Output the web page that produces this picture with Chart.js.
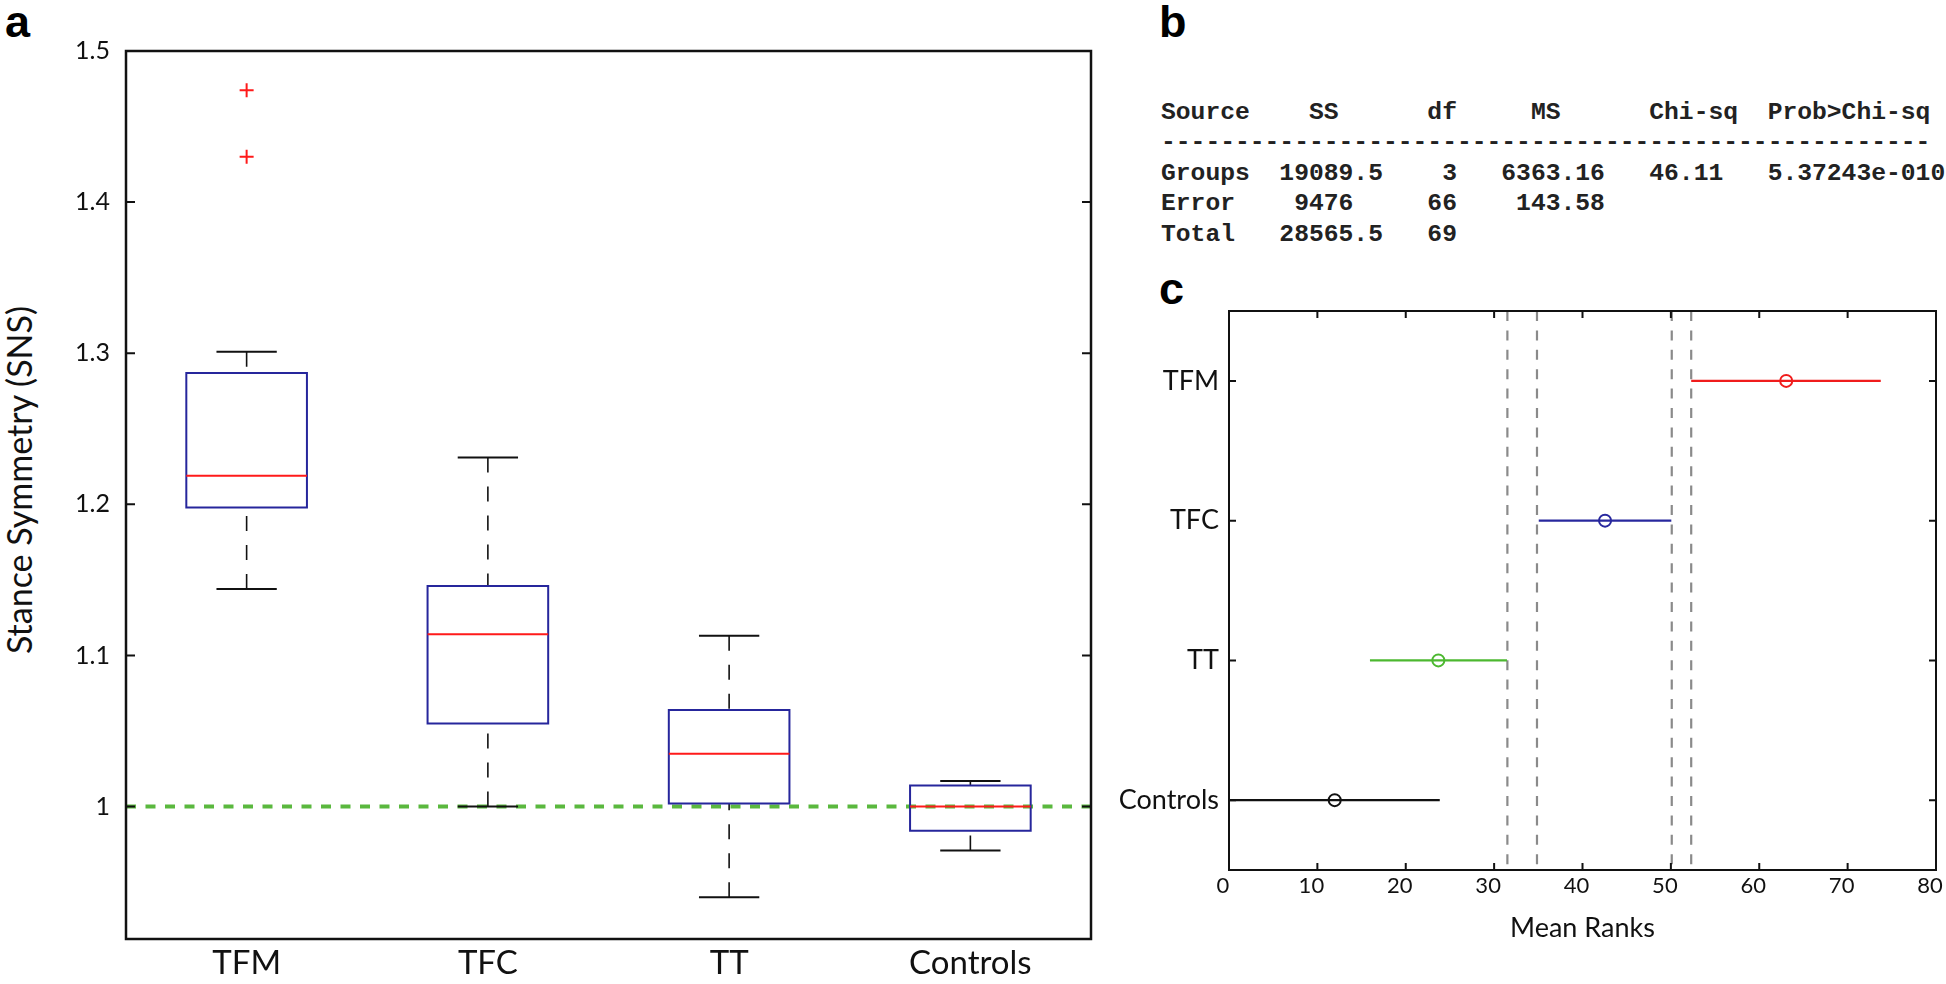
<!DOCTYPE html>
<html>
<head>
<meta charset="utf-8">
<script src="https://cdn.jsdelivr.net/npm/chart.js@4.4.1/dist/chart.umd.min.js"></script>
<style>
  html, body { margin: 0; padding: 0; background: #fff; }
  body { width: 1946px; height: 984px; position: relative; overflow: hidden; }
  canvas { position: absolute; }
  #chartA { left: 0; top: 0; }
  #chartC { left: 1100px; top: 260px; }
  .tag { position: absolute; font: bold 45px 'Liberation Sans', Arial, sans-serif; line-height: 1; color: #000; }
  #ylab { position: absolute; width: 400px; left: -181.5px; top: 463px; font: 34px Lato, sans-serif;
          line-height: 34px; text-align: center; color: #111; transform: rotate(-90deg); }
  #anova { position: absolute; left: 1161px; top: 96.5px; margin: 0; color: #222;
           font: bold 24.67px 'Liberation Mono', 'Courier New', monospace; line-height: 30.5px; }
</style>
</head>
<body>
<div class="tag" style="left:5px;top:-1px">a</div>
<div class="tag" style="left:1159px;top:-1px">b</div>
<div class="tag" style="left:1159px;top:266px">c</div>
<div id="ylab">Stance Symmetry (SNS)</div>
<pre id="anova"></pre>
<canvas id="chartA" width="1100" height="984"></canvas>
<canvas id="chartC" width="846" height="724"></canvas>
<script>
// groups shared by both plots
const groups = ['TFM', 'TFC', 'TT', 'Controls'];

// a: box plot of stance symmetry
const whiskerHigh = [1.301, 1.231, 1.113, 1.017];
const q3 = [1.287, 1.146, 1.064, 1.014];
const medians = [1.219, 1.114, 1.035, 1.000];
const q1 = [1.198, 1.055, 1.002, 0.984];
const whiskerLow = [1.144, 1.000, 0.940, 0.971];
const outliers = [[1.474, 1.430], [], [], []];
const refLevel = 1;
const yTicksA = [1, 1.1, 1.2, 1.3, 1.4, 1.5];

// b: Kruskal-Wallis table
const tableHead = ['Source', 'SS', 'df', 'MS', 'Chi-sq', 'Prob>Chi-sq'];
const tableRows = [
  ['Groups', '19089.5', '3', '6363.16', '46.11', '5.37243e-010'],
  ['Error', '9476', '66', '143.58'],
  ['Total', '28565.5', '69']
];

// c: multiple comparison of mean ranks
const rankMeans = [63.05, 42.55, 23.69, 11.96];
const rankLow = [52.3, 35.05, 15.95, 0.1];
const rankHigh = [73.75, 50.05, 31.45, 23.85];
const cutLines = [31.5, 34.85, 50.1, 52.3];
const xTicksC = [0, 10, 20, 30, 40, 50, 60, 70, 80];

// table text, columns as in the matlab output
const headCols = [0, 10, 18, 25, 33, 41];
const rowCols = [[0, 8, 19, 23, 33, 41], [0, 9, 18, 24], [0, 8, 18]];
function placeRow(cells, cols) {
  let s = '';
  cells.forEach((c, i) => { s = s.padEnd(cols[i]) + c; });
  return s;
}
document.getElementById('anova').textContent = [
  placeRow(tableHead, headCols),
  '-'.repeat(52),
  ...tableRows.map((r, i) => placeRow(r, rowCols[i]))
].join('\n');

Chart.defaults.font.family = 'Lato';
Chart.defaults.color = '#111';

// matlab style frame with inward ticks
const frameTicks = {
  id: 'frameTicks',
  afterDatasetsDraw(chart, args, opts) {
    const { ctx, chartArea: a, scales: { x, y } } = chart;
    ctx.save();
    ctx.strokeStyle = '#111';
    ctx.lineWidth = opts.tickWidth;
    ctx.beginPath();
    (opts.yTicks || []).forEach(v => {
      const py = y.getPixelForValue(v);
      ctx.moveTo(a.left, py); ctx.lineTo(a.left + opts.tickLen, py);
      ctx.moveTo(a.right, py); ctx.lineTo(a.right - opts.tickLen, py);
    });
    (opts.xTicks || []).forEach(v => {
      const px = x.getPixelForValue(v);
      ctx.moveTo(px, a.top); ctx.lineTo(px, a.top + opts.tickLen);
      ctx.moveTo(px, a.bottom); ctx.lineTo(px, a.bottom - opts.tickLen);
    });
    ctx.stroke();
    ctx.lineWidth = opts.frameWidth;
    ctx.strokeRect(a.left, a.top, a.right - a.left, a.bottom - a.top);
    ctx.restore();
  }
};

// box plot pieces, one line dataset each, segments split by null
const half = 0.25, capHalf = 0.125;
const boxPts = [], medPts = [], whiskPts = [], capPts = [], outPts = [];
groups.forEach((g, k) => {
  const i = k + 1;
  boxPts.push({x: i - half, y: q1[k]}, {x: i + half, y: q1[k]}, {x: i + half, y: q3[k]},
              {x: i - half, y: q3[k]}, {x: i - half, y: q1[k]}, {x: i, y: null});
  medPts.push({x: i - half, y: medians[k]}, {x: i + half, y: medians[k]}, {x: i, y: null});
  whiskPts.push({x: i, y: whiskerHigh[k]}, {x: i, y: q3[k]}, {x: i, y: null},
                {x: i, y: whiskerLow[k]}, {x: i, y: q1[k]}, {x: i, y: null});
  capPts.push({x: i - capHalf, y: whiskerHigh[k]}, {x: i + capHalf, y: whiskerHigh[k]}, {x: i, y: null},
              {x: i - capHalf, y: whiskerLow[k]}, {x: i + capHalf, y: whiskerLow[k]}, {x: i, y: null});
  outliers[k].forEach(v => outPts.push({x: i, y: v}));
});

new Chart(document.getElementById('chartA'), {
  type: 'line',
  data: {
    datasets: [
      { data: medPts, borderColor: '#ff1a1a', borderWidth: 2, order: 1 },
      { data: boxPts, borderColor: '#26269c', borderWidth: 2, borderCapStyle: 'square', borderJoinStyle: 'miter', order: 1 },
      { data: capPts, borderColor: '#111', borderWidth: 2, order: 1 },
      { data: whiskPts, borderColor: '#111', borderWidth: 1.6, borderDash: [15, 14], order: 1 },
      { data: outPts, showLine: false, pointStyle: 'cross', pointRadius: 7, pointBorderWidth: 2,
        pointBorderColor: '#ff1a1a', order: 1 },
      { data: [{x: 0.5, y: refLevel}, {x: 4.5, y: refLevel}], borderColor: '#5ab83e', borderWidth: 4,
        borderDash: [10, 9.5], order: 2 }
    ]
  },
  options: {
    responsive: false,
    animation: false,
    layout: { padding: { left: 0, top: 51, right: 9, bottom: 0 } },
    elements: { point: { radius: 0 }, line: { tension: 0 } },
    plugins: {
      legend: { display: false },
      tooltip: { enabled: false },
      frameTicks: { yTicks: yTicksA, tickLen: 9, tickWidth: 2, frameWidth: 2.5 }
    },
    scales: {
      x: {
        type: 'linear', min: 0.5, max: 4.5,
        grid: { display: false, drawTicks: false }, border: { display: false },
        afterBuildTicks: s => { s.ticks = groups.map((g, k) => ({ value: k + 1 })); },
        afterFit: s => { s.height = 45; s.paddingLeft = 0; s.paddingRight = 0; },
        ticks: { callback: v => groups[v - 1], font: { size: 33 }, padding: 5, maxRotation: 0, autoSkip: false }
      },
      y: {
        type: 'linear', min: 0.9124, max: 1.5,
        grid: { display: false, drawTicks: false }, border: { display: false },
        afterBuildTicks: s => { s.ticks = yTicksA.map(v => ({ value: v })); },
        afterFit: s => { s.width = 126; },
        ticks: { callback: v => String(Math.round(v * 10) / 10), font: { size: 25 }, padding: 16 }
      }
    }
  },
  plugins: [frameTicks]
});

const rankColors = ['#f01c1c', '#28289e', '#4cb830', '#111111'];

new Chart(document.getElementById('chartC'), {
  type: 'line',
  data: {
    datasets: [
      { data: rankMeans.map((m, k) => ({x: m, y: k + 1})), showLine: false, pointRadius: 6,
        pointBorderWidth: 2, pointBorderColor: rankColors, pointBackgroundColor: 'rgba(0,0,0,0)', order: 1 },
      ...groups.map((g, k) => ({
        data: [{x: rankLow[k], y: k + 1}, {x: rankHigh[k], y: k + 1}],
        borderColor: rankColors[k], borderWidth: 2.2, order: 1
      })),
      ...cutLines.map(v => ({
        data: [{x: v, y: 0.5}, {x: v, y: 4.5}],
        borderColor: '#8a8a8a', borderWidth: 2.2, borderDash: [10, 9.4], order: 2
      }))
    ]
  },
  options: {
    responsive: false,
    animation: false,
    layout: { padding: { left: 0, top: 51, right: 10, bottom: 0 } },
    elements: { point: { radius: 0 }, line: { tension: 0 } },
    plugins: {
      legend: { display: false },
      tooltip: { enabled: false },
      frameTicks: { yTicks: [1, 2, 3, 4], xTicks: xTicksC, tickLen: 7, tickWidth: 2, frameWidth: 2 }
    },
    scales: {
      x: {
        type: 'linear', min: 0, max: 80,
        grid: { display: false, drawTicks: false }, border: { display: false },
        afterBuildTicks: s => { s.ticks = xTicksC.map(v => ({ value: v })); },
        afterFit: s => { s.height = 114; s.paddingLeft = 0; s.paddingRight = 0; },
        ticks: { font: { size: 22 }, padding: 3, labelOffset: -6, maxRotation: 0, autoSkip: false },
        title: { display: true, text: 'Mean Ranks', font: { size: 27 }, padding: { top: 0, bottom: 40 } }
      },
      y: {
        type: 'linear', min: 0.5, max: 4.5, reverse: true,
        grid: { display: false, drawTicks: false }, border: { display: false },
        afterBuildTicks: s => { s.ticks = groups.map((g, k) => ({ value: k + 1 })); },
        afterFit: s => { s.width = 129; },
        ticks: { callback: v => groups[v - 1], font: { size: 27 }, padding: 10 }
      }
    }
  },
  plugins: [frameTicks]
});
</script>
</body>
</html>
